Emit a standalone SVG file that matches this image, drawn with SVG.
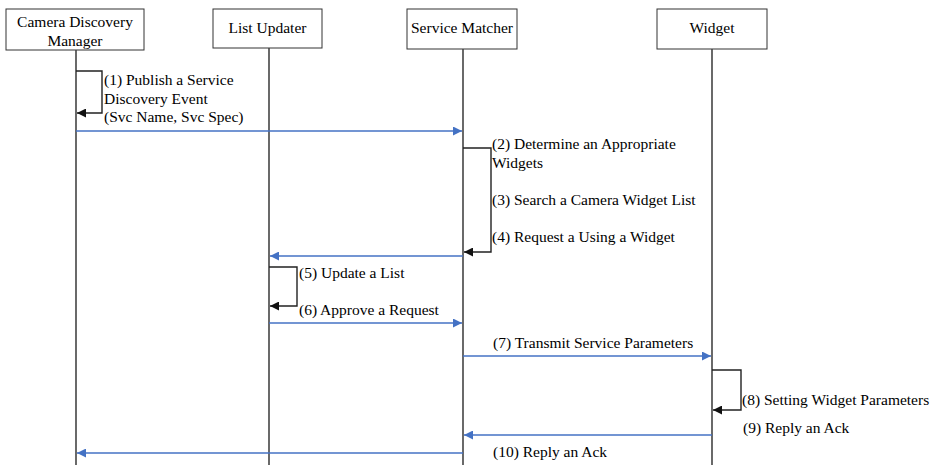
<svg xmlns="http://www.w3.org/2000/svg" width="939" height="465" viewBox="0 0 939 465">
  <defs>
    <marker id="blueHead" viewBox="0 0 10 10" refX="10" refY="5" markerWidth="10" markerHeight="9" markerUnits="userSpaceOnUse" orient="auto">
      <path d="M0,0 L10,5 L0,10 z" fill="#4472c4"/>
    </marker>
    <marker id="blackHead" viewBox="0 0 10 10" refX="10" refY="5" markerWidth="10" markerHeight="9" markerUnits="userSpaceOnUse" orient="auto">
      <path d="M0,0 L10,5 L0,10 z" fill="#111"/>
    </marker>
  </defs>
  <style>
    .box { fill: #fff; stroke: #333; stroke-width: 1; }
    .life { stroke: #444; stroke-width: 1.6; fill: none; }
    .msg { stroke: #4472c4; stroke-width: 1.5; fill: none; marker-end: url(#blueHead); }
    .self { stroke: #222; stroke-width: 1.4; fill: none; marker-end: url(#blackHead); }
    text { font-family: "Liberation Serif", "Times New Roman", serif; font-size: 15.5px; fill: #000; }
    .title { text-anchor: middle; }
  </style>
  <rect width="939" height="465" fill="#fff"/>

  <g id="camera-discovery-manager">
    <rect class="box" x="6" y="9" width="138" height="41"/>
    <text class="title" x="75" y="27">Camera Discovery</text>
    <text class="title" x="75" y="46">Manager</text>
    <line class="life" x1="76" y1="50" x2="76" y2="465"/>
  </g>

  <g id="list-updater">
    <rect class="box" x="213" y="9" width="109" height="39"/>
    <text class="title" x="267.5" y="33">List Updater</text>
    <line class="life" x1="269" y1="48" x2="269" y2="465"/>
  </g>

  <g id="service-matcher">
    <rect class="box" x="407" y="9" width="110" height="40"/>
    <text class="title" x="462" y="33">Service Matcher</text>
    <line class="life" x1="463" y1="49" x2="463" y2="465"/>
  </g>

  <g id="widget">
    <rect class="box" x="657" y="9" width="110" height="40"/>
    <text class="title" x="712" y="33">Widget</text>
    <line class="life" x1="712" y1="49" x2="712" y2="465"/>
  </g>

  <g id="connectors">
    <!-- (1) self call on Camera Discovery Manager -->
    <polyline class="self" points="76,71 102,71 102,113 77,113"/>
    <line class="msg" x1="76" y1="131" x2="462" y2="131"/>
    <!-- (2)-(4) self call on Service Matcher -->
    <polyline class="self" points="463,148 491,148 491,252 464,252"/>
    <line class="msg" x1="463" y1="256" x2="270" y2="256"/>
    <!-- (5)-(6) self call on List Updater -->
    <polyline class="self" points="269,267 297,267 297,306 270,306"/>
    <line class="msg" x1="269" y1="323" x2="462" y2="323"/>
    <line class="msg" x1="463" y1="356" x2="711" y2="356"/>
    <!-- (8) self call on Widget -->
    <polyline class="self" points="712,370 741,370 741,410 713,410"/>
    <line class="msg" x1="712" y1="435" x2="464" y2="435"/>
    <line class="msg" x1="463" y1="453" x2="77" y2="453"/>
  </g>

  <g id="labels">
    <text x="104" y="85">(1) Publish a Service</text>
    <text x="104" y="104">Discovery Event</text>
    <text x="104" y="122">(Svc Name, Svc Spec)</text>
    <text x="492" y="149">(2) Determine an Appropriate</text>
    <text x="492" y="168">Widgets</text>
    <text x="492" y="205">(3) Search a Camera Widget List</text>
    <text x="492" y="242">(4) Request a Using a Widget</text>
    <text x="299" y="278">(5) Update a List</text>
    <text x="299" y="315">(6) Approve a Request</text>
    <text x="493" y="348">(7) Transmit Service Parameters</text>
    <text x="742" y="405">(8) Setting Widget Parameters</text>
    <text x="743" y="433">(9) Reply an Ack</text>
    <text x="493" y="457">(10) Reply an Ack</text>
  </g>
</svg>
